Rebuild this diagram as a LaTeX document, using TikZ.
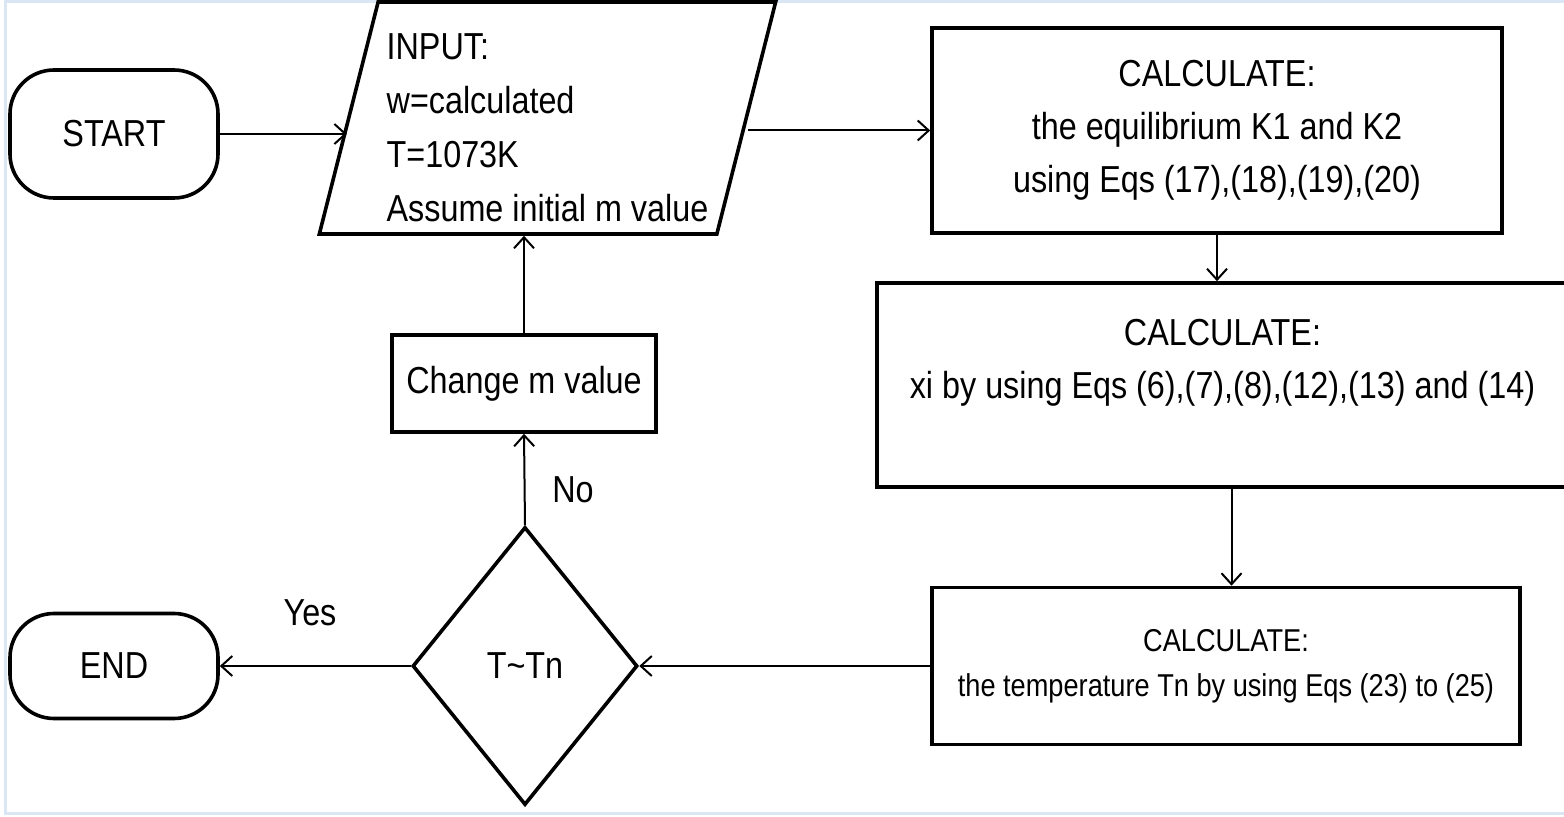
\documentclass[tikz,border=0pt]{standalone}
\usepackage{fontspec}
\setmainfont{Liberation Sans}[FakeStretch=0.86]
\usetikzlibrary{shapes.geometric,arrows.meta,positioning}
\definecolor{framecol}{RGB}{218,230,244}

\begin{document}
\begin{tikzpicture}[x=0.5pt,y=-0.5pt,
    box/.style={draw,line width=1.8pt,align=center,inner sep=0pt,
                font=\fontsize{18.8}{26.5}\selectfont},
    term/.style={box,rounded corners=22pt,minimum width=104pt},
    arr/.style={line width=1pt,-{Straight Barb[length=5.5pt,width=10pt]}},
    lbl/.style={font=\fontsize{18.8}{22}\selectfont}]
    \useasboundingbox (0,0) rectangle (1564,817);
    \draw[framecol,line width=1.5pt] (5,2) rectangle (1570,813);

    % terminals
    \node[term,minimum height=64pt] (start) at (114,134) {START};
    \node[term,minimum height=52.5pt] (finish) at (114,666) {END};

    % input
    \node[box,trapezium,trapezium left angle=75,trapezium right angle=105,
          trapezium stretches=true,minimum width=228.5pt,minimum height=116pt,
          align=left,font=\fontsize{18.8}{27}\selectfont] (input) at (547.5,118)
          {\rule{0pt}{23pt}INPUT:\\w=calculated\\T=1073K\\Assume initial m value};

    % calculation steps
    \node[box,minimum width=285pt,minimum height=102.5pt] (eqk) at (1217,130.5)
          {CALCULATE:\\the equilibrium K1 and K2\\using Eqs (17),(18),(19),(20)};
    \node[box,minimum width=345.5pt,minimum height=102pt] (molx) at (1222.5,385)
          {CALCULATE:\\xi by using Eqs (6),(7),(8),(12),(13) and (14)\\\mbox{}};
    \node[box,minimum width=294pt,minimum height=78.5pt,
          font=\fontsize{15.8}{22.5}\selectfont] (temp) at (1226,666)
          {CALCULATE:\\the temperature Tn by using Eqs (23) to (25)};

    % decision and loop
    \node[box,diamond,minimum width=112.5pt,minimum height=139pt] (check) at (525,666)
          {T\textasciitilde Tn};
    \node[box,minimum width=132pt,minimum height=48.5pt] (change) at (524,383.5)
          {Change m value};
    \node[lbl] (no) at (573,490) {No};
    \node[lbl] (yes) at (310,613) {Yes};

    % connectors
    \draw[arr] (start.east) -- (start.east -| input.west);
    \draw[arr] (input.east |- eqk.west) -- (eqk.west);
    \draw[arr] (eqk.south) -- (eqk.south |- molx.north);
    \draw[arr] ([xshift=4.5pt]molx.south) -- ([xshift=4.5pt]molx.south |- temp.north);
    \draw[arr] (temp.west) -- (check.east);
    \draw[arr] (check.west) -- (finish.east);
    \draw[arr] (check.north) -- (change.south);
    \draw[arr] (change.north) -- (change.north |- input.south);
\end{tikzpicture}
\end{document}
